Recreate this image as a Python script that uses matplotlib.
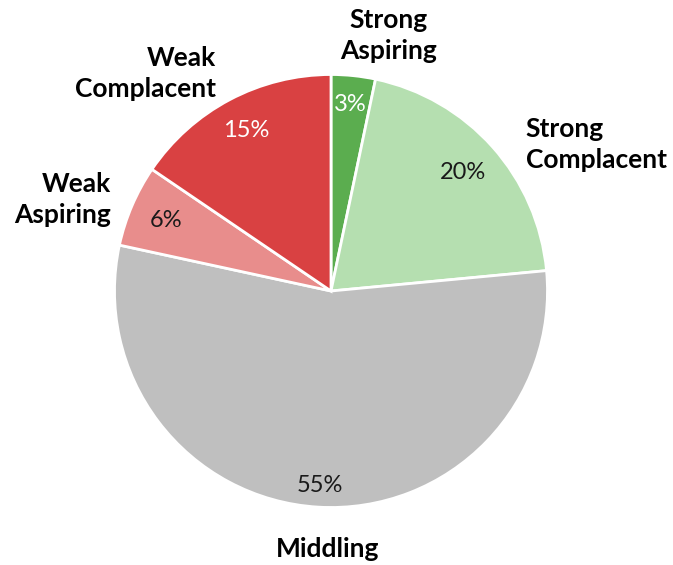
import numpy as np
import matplotlib
matplotlib.use("Agg")
import matplotlib.pyplot as plt

categories = ["Strong\nAspiring", "Strong\nComplacent", "Middling", "Weak\nAspiring", "Weak\nComplacent"]
values = [3.3, 20.2, 54.9, 6.1, 15.5]
pct_labels = ["3%", "20%", "55%", "6%", "15%"]
colors = ["#5BAD4F", "#B5DFB0", "#BFBFBF", "#E88D8C", "#D94142"]
pct_colors = ["white", "#1a1a1a", "#1a1a1a", "#1a1a1a", "white"]

# layout: distance of percent labels and outer labels (radius units), angle of outer labels
pct_dist = [0.865, 0.82, 0.90, 0.83, 0.84]
lab_pos = [(77.4, 1.21), (28.9, 1.40), (-90.7, 1.19), (161.2, 1.31), (130.5, 1.32)]
lab_align = ["center", "left", "center", "right", "right"]

W, H = 673, 565
fig = plt.figure(figsize=(W / 100, H / 100), dpi=100)
cx, cy, r = 331, 291, 216.5
ax = fig.add_axes([(cx - r) / W, (H - cy - r) / H, 2 * r / W, 2 * r / H])
wedges, _ = ax.pie(values, colors=colors, startangle=90, counterclock=False,
                   wedgeprops=dict(edgecolor="white", linewidth=2))
ax.set_xlim(-1, 1)
ax.set_ylim(-1, 1)
ax.set_aspect("auto")
ax.axis("off")

for w, lab, col, d in zip(wedges, pct_labels, pct_colors, pct_dist):
    th = np.deg2rad((w.theta1 + w.theta2) / 2)
    ax.text(d * np.cos(th), d * np.sin(th), lab, ha="center", va="center",
            fontsize=17, color=col, family="Lato")

for cat, (ang, rr), al in zip(categories, lab_pos, lab_align):
    th = np.deg2rad(ang)
    ax.text(rr * np.cos(th), rr * np.sin(th), cat, ha="center", va="center",
            fontsize=19, fontweight="bold", color="black", family="Lato",
            linespacing=1.33, multialignment=al, clip_on=False)

fig.savefig("out.png", dpi=100)
